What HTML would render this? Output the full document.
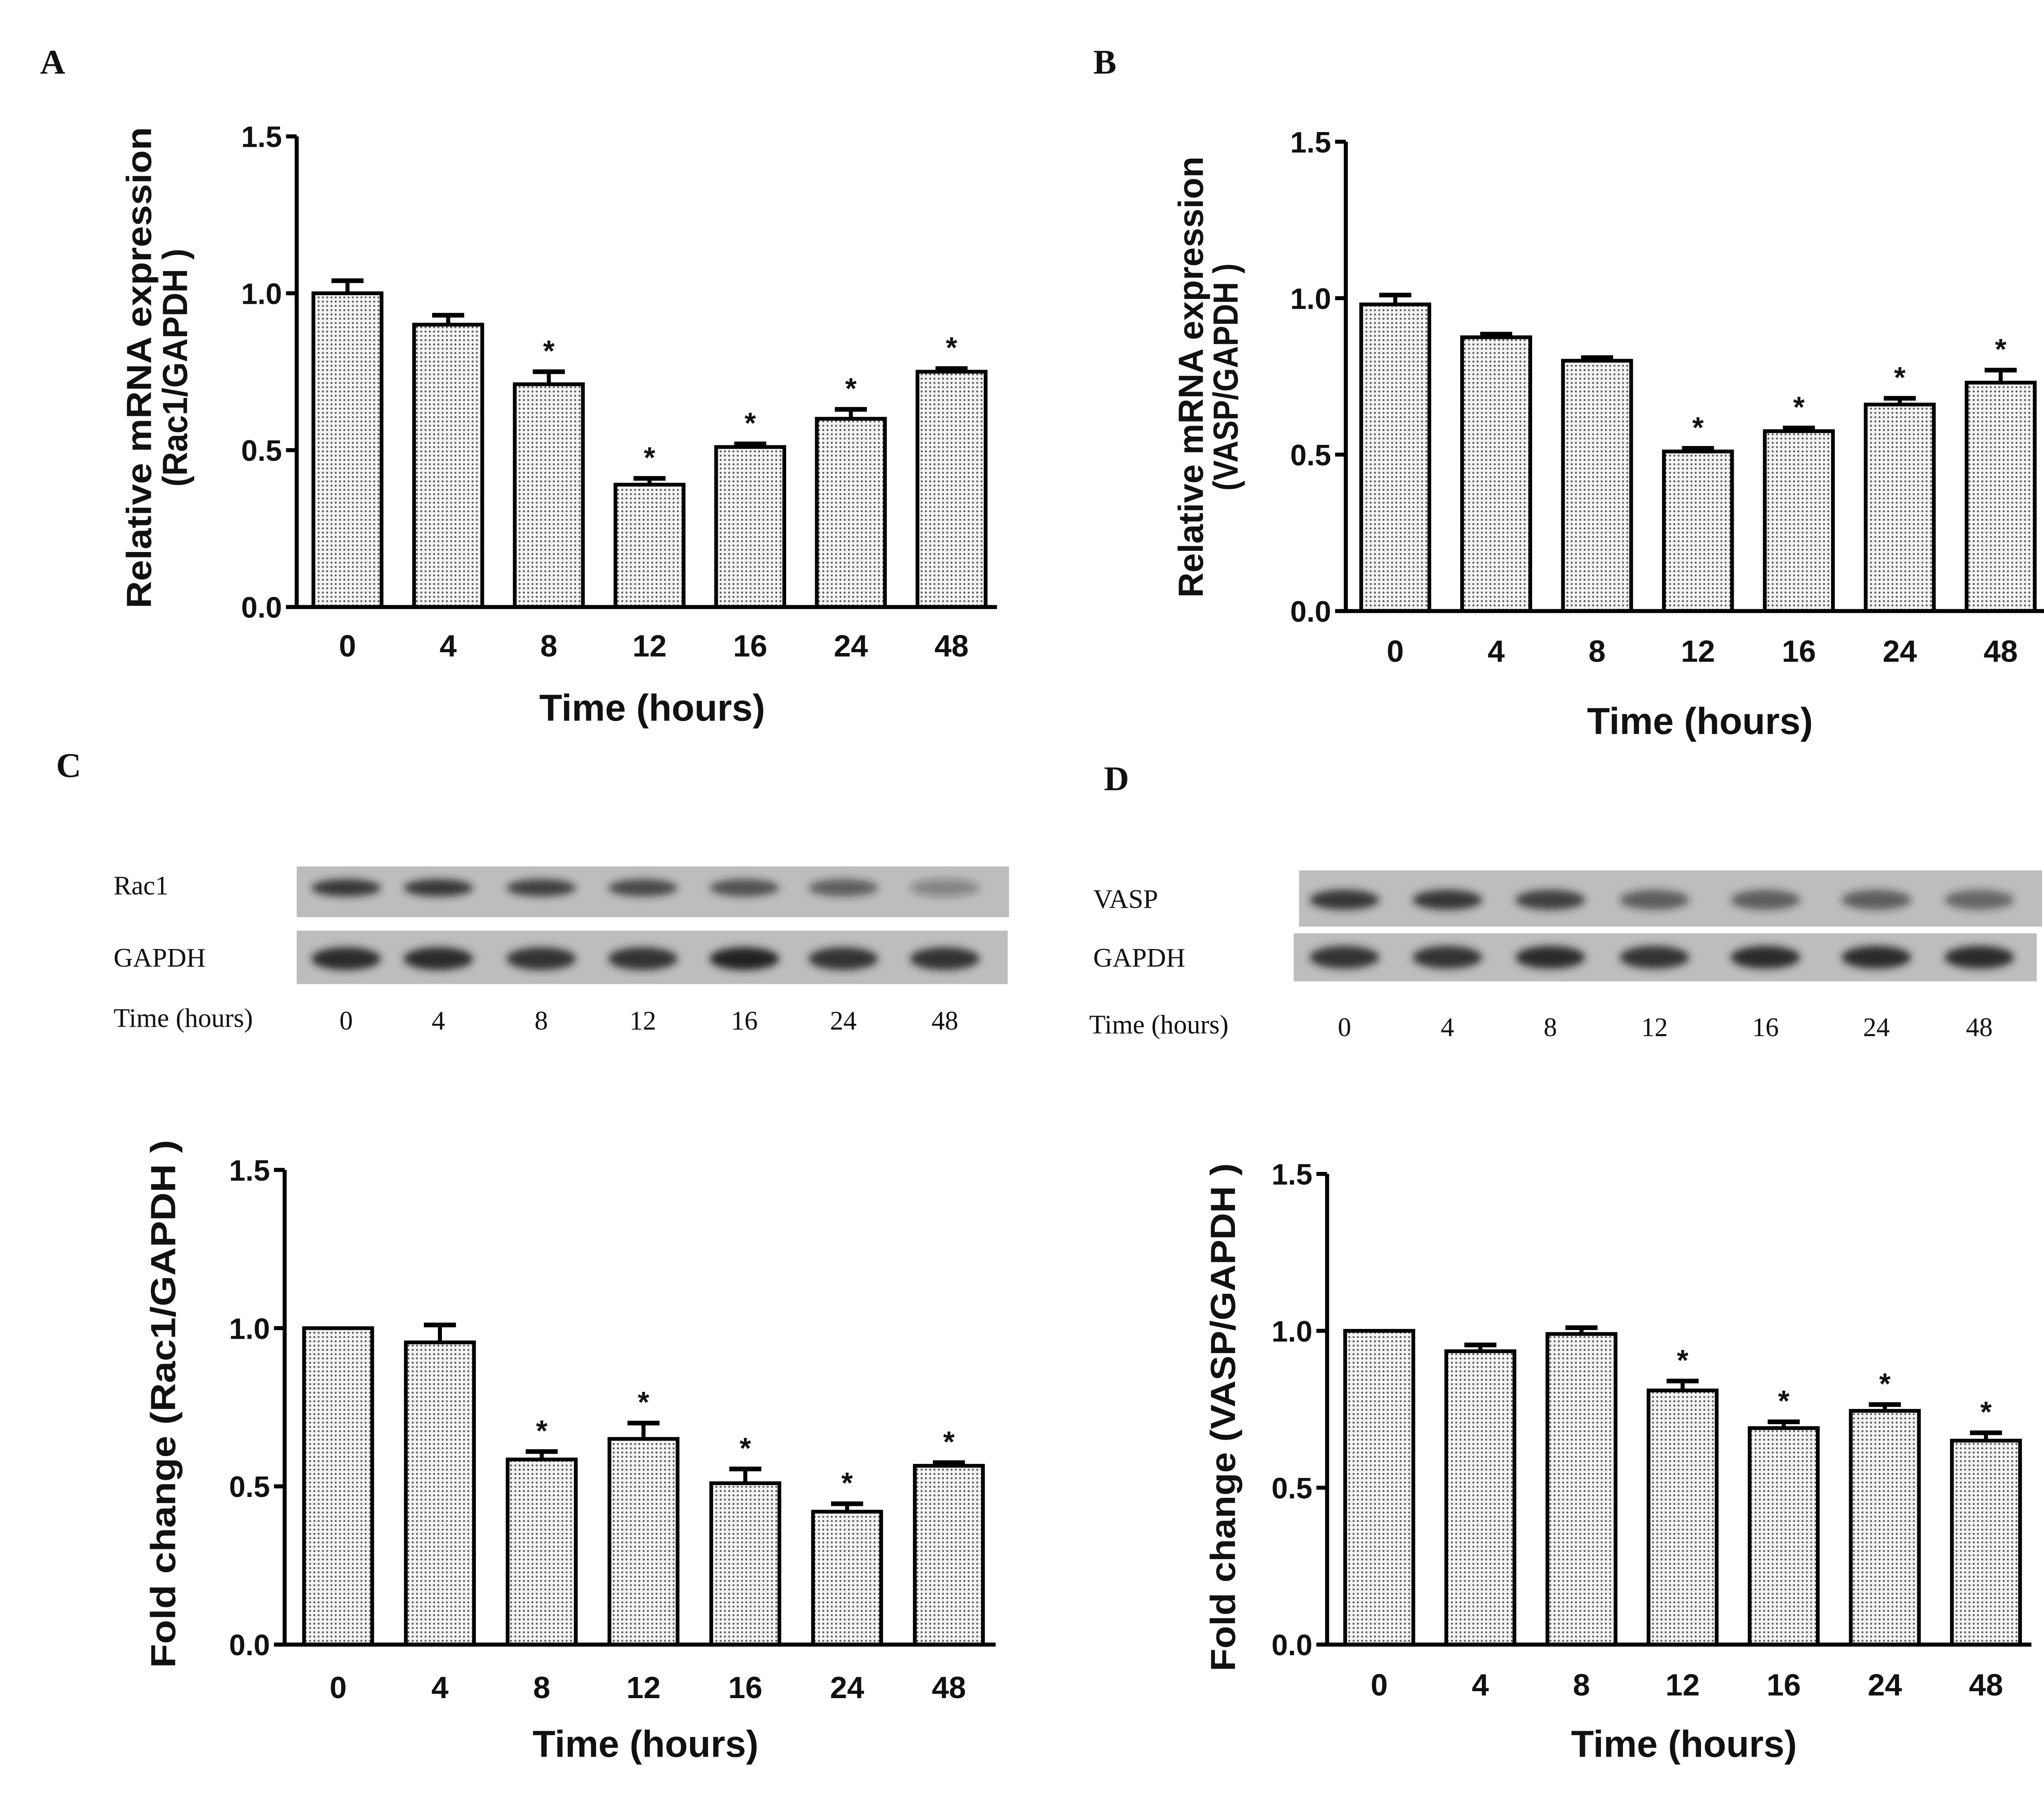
<!DOCTYPE html>
<html><head><meta charset="utf-8"><style>
html,body{margin:0;padding:0;background:#fff}
svg{display:block}
text{font-family:"Liberation Sans",Arial,sans-serif;font-weight:bold;fill:#111}
.serif{font-family:"Liberation Serif",serif;font-weight:normal}
.letter{font-family:"Liberation Serif",serif;font-weight:bold}
</style></head><body>
<svg id="fig" xmlns="http://www.w3.org/2000/svg" width="5100" height="4385" viewBox="0 0 1560 1341" preserveAspectRatio="none">
<defs>
<pattern id="dots" width="3.2" height="3.2" patternUnits="userSpaceOnUse">
<rect width="3.2" height="3.2" fill="#f4f4f4"/><circle cx="1.6" cy="1.6" r="0.75" fill="#555"/>
</pattern>
<filter id="blur" x="-20%" y="-50%" width="140%" height="200%"><feGaussianBlur stdDeviation="3"/></filter>
</defs>
<text class="letter" x="30" y="55" font-size="26">A</text>
<text class="letter" x="818" y="55" font-size="26">B</text>
<text class="letter" x="42" y="581" font-size="26">C</text>
<text class="letter" x="826" y="591" font-size="26">D</text>
<g id="charts"></g>
<g id="blots"></g>
</svg>
<script>
const categories = ["0","4","8","12","16","24","48"];
const yTicks = [0.0, 0.5, 1.0, 1.5];
const valuesA = [1.00, 0.90, 0.71, 0.39, 0.51, 0.60, 0.75];
const errorsA = [0.04, 0.03, 0.04, 0.02, 0.01, 0.03, 0.01];
const starsA = [false,false,true,true,true,true,true];
const valuesB = [0.98, 0.875, 0.80, 0.51, 0.575, 0.66, 0.73];
const errorsB = [0.03, 0.01, 0.01, 0.01, 0.01, 0.02, 0.04];
const starsB = [false,false,false,true,true,true,true];
const valuesC = [1.00, 0.955, 0.585, 0.65, 0.51, 0.42, 0.565];
const errorsC = [0.0, 0.055, 0.025, 0.05, 0.045, 0.025, 0.01];
const starsC = [false,false,true,true,true,true,true];
const valuesD = [1.00, 0.935, 0.99, 0.81, 0.69, 0.745, 0.65];
const errorsD = [0.0, 0.02, 0.02, 0.03, 0.02, 0.02, 0.025];
const starsD = [false,false,false,true,true,true,true];
const rac1Intensity = [0.85, 0.85, 0.8, 0.75, 0.7, 0.6, 0.35];
const gapdhCIntensity = [0.95, 0.95, 0.9, 0.9, 1.0, 0.9, 0.9];
const vaspIntensity = [0.85, 0.85, 0.8, 0.6, 0.6, 0.6, 0.55];
const gapdhDIntensity = [0.9, 0.9, 0.95, 0.9, 0.95, 0.95, 0.95];

const NS="http://www.w3.org/2000/svg";
function mk(tag, attrs, parent){const e=document.createElementNS(NS,tag);for(const k in attrs)e.setAttribute(k,attrs[k]);parent.appendChild(e);return e;}

const panels=[
 {id:"a",vals:valuesA,errs:errorsA,stars:starsA,ax:222,yTop:102,y0:454,x0c:260,x6c:712,xEnd:746,tickY:491,titleY:539,titleX:488,ylab:["Relative mRNA expression","(Rac1/GAPDH )"],ylabLen:[360,178],ylabX:[113,140],ylabY:275},
 {id:"b",vals:valuesB,errs:errorsB,stars:starsB,ax:1007,yTop:106,y0:457,x0c:1044,x6c:1497,xEnd:1530,tickY:495,titleY:549,titleX:1272,ylab:["Relative mRNA expression","(VASP/GAPDH )"],ylabLen:[330,170],ylabX:[900,926],ylabY:282},
 {id:"c",vals:valuesC,errs:errorsC,stars:starsC,ax:213,yTop:875,y0:1230,x0c:253,x6c:710,xEnd:745,tickY:1270,titleY:1314,titleX:483,ylab:["Fold change (Rac1/GAPDH )"],ylabLen:[395],ylabX:[131],ylabY:1050},
 {id:"d",vals:valuesD,errs:errorsD,stars:starsD,ax:993,yTop:878,y0:1230,x0c:1032,x6c:1486,xEnd:1520,tickY:1268,titleY:1314,titleX:1260,ylab:["Fold change (VASP/GAPDH )"],ylabLen:[380],ylabX:[924],ylabY:1060}
];
const root=document.getElementById('charts');
panels.forEach(p=>{
 const g=mk('g',{},root);
 
 
 const ys=v=>p.y0-(v/1.5)*(p.y0-p.yTop);
 const step=(p.x6c-p.x0c)/6;
 const xs=i=>p.x0c+i*step;
 const bw=51;
 p.vals.forEach((v,i)=>{
  const cx=xs(i), top=ys(v), e=p.errs[i];
  if(e>0){
   const l=mk('line',{x1:cx,x2:cx,y1:top,y2:ys(v+e),stroke:'#000','stroke-width':3},g);
   
   
   const c=mk('line',{x1:cx-12,x2:cx+12,y1:ys(v+e),y2:ys(v+e),stroke:'#000','stroke-width':3.5},g);
   
   
  }
  const r=mk('rect',{x:cx-bw/2,y:top,width:bw,height:p.y0-top,fill:'url(#dots)',stroke:'#000','stroke-width':2.8},g);
  
  
  if(p.stars[i]){
   const s=mk('text',{x:cx,y:ys(v+e)-8,'font-size':22,'font-weight':'normal','text-anchor':'middle'},g);
   s.textContent='*';
   
   
  }
  const t=mk('text',{x:cx,y:p.tickY,'font-size':23,'text-anchor':'middle'},g);
  t.textContent=categories[i];
  
  
 });
 const ya=mk('line',{x1:p.ax,x2:p.ax,y1:p.yTop,y2:p.y0+1.5,stroke:'#000','stroke-width':3},g);
 
 
 const xa=mk('line',{x1:p.ax-8,x2:p.xEnd,y1:p.y0,y2:p.y0,stroke:'#000','stroke-width':3},g);
 
 
 yTicks.forEach(tv=>{
  const y=ys(tv);
  const tk=mk('line',{x1:p.ax-8,x2:p.ax,y1:y,y2:y,stroke:'#000','stroke-width':3},g);
  
  
  const tl=mk('text',{x:p.ax-11,y:y+8,'font-size':22,'text-anchor':'end'},g);
  tl.textContent=tv.toFixed(1);
  
  
 });
 const xt=mk('text',{x:p.titleX,y:p.titleY,'font-size':28,'text-anchor':'middle'},g);
 xt.textContent='Time (hours)';
 
 
 p.ylab.forEach((s,k)=>{
  const t=mk('text',{x:0,y:0,'font-size':26,'text-anchor':'middle',textLength:p.ylabLen[k],lengthAdjust:'spacingAndGlyphs',transform:`translate(${p.ylabX[k]},${p.ylabY}) rotate(-90)`},g);
  t.textContent=s;
  
  
 });
});

const blots=[
 {id:"c",label:"Rac1",x1:222,x2:755,y1:648,y2:686,lanes:[259,328,405,481,557,631,707],inten:rac1Intensity,labelX:85,labelY:669,bandY:664,bh:9},
 {id:"c",label:"GAPDH",x1:222,x2:754,y1:696,y2:736,lanes:[259,328,405,481,557,631,707],inten:gapdhCIntensity,labelX:85,labelY:723,bandY:717,bh:13},
 {id:"d",label:"VASP",x1:972,x2:1528,y1:651,y2:693,lanes:[1006,1083,1160,1238,1321,1404,1481],inten:vaspIntensity,labelX:818,labelY:679,bandY:673,bh:11},
 {id:"d",label:"GAPDH",x1:968,x2:1524,y1:698,y2:734,lanes:[1006,1083,1160,1238,1321,1404,1481],inten:gapdhDIntensity,labelX:818,labelY:723,bandY:716,bh:13}
];
const broot=document.getElementById('blots');
blots.forEach(b=>{
 const g=mk('g',{},broot);
 
 
 const bg=mk('rect',{x:b.x1,y:b.y1,width:b.x2-b.x1,height:b.y2-b.y1,fill:'#bdbdbd'},g);
 
 
 b.lanes.forEach((lx,i)=>{
  const e=mk('ellipse',{cx:lx,cy:b.bandY,rx:26,ry:b.bh/2+2,fill:'#222','fill-opacity':b.inten[i],filter:'url(#blur)'},g);
  
  
 });
 const t=mk('text',{x:b.labelX,y:b.labelY,'font-size':20,class:'serif'},g);
 t.textContent=b.label;
 
 
});
[{x:85,y:768,lanes:[259,328,405,481,557,631,707],id:'c'},{x:815,y:773,lanes:[1006,1083,1160,1238,1321,1404,1481],id:'d'}].forEach(r=>{
 const t=mk('text',{x:r.x,y:r.y,'font-size':20,class:'serif'},broot);
 t.textContent='Time (hours)';
 
 
 r.lanes.forEach((lx,i)=>{
  const n=mk('text',{x:lx,y:r.y+2,'font-size':20,'text-anchor':'middle',class:'serif'},broot);
  n.textContent=categories[i];
  
  
 });
});
</script>
</body></html>
